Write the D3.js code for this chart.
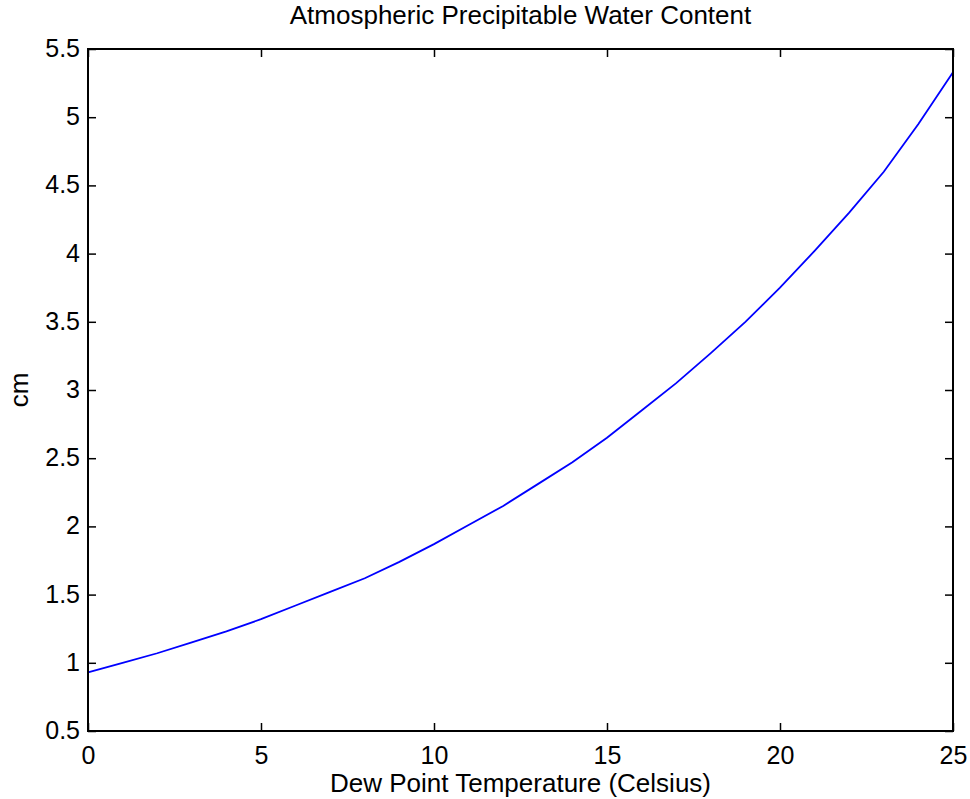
<!DOCTYPE html>
<html>
<head>
<meta charset="utf-8">
<script src="https://cdn.jsdelivr.net/npm/d3@7"></script>
<style>
	body { margin: 0; background: #fff; }
	text { font-family: "Liberation Sans", Arial, sans-serif; fill: #000; }
</style>
</head>
<body>
<div id="chart"></div>
<script>
// dew point (Celsius) vs precipitable water (cm)
const dewPoint = [0, 1, 2, 3, 4, 5, 6, 7, 8, 9, 10, 11, 12, 13, 14, 15, 16, 17, 18, 19, 20, 21, 22, 23, 24, 25];
const water = [0.93, 1.00, 1.07, 1.15, 1.23, 1.32, 1.42, 1.52, 1.62, 1.74, 1.87, 2.01, 2.15, 2.31, 2.47, 2.65,
	2.85, 3.05, 3.27, 3.50, 3.75, 4.02, 4.30, 4.60, 4.95, 5.33];
const xTicks = [0, 5, 10, 15, 20, 25];
const yTicks = [0.5, 1, 1.5, 2, 2.5, 3, 3.5, 4, 4.5, 5, 5.5];

const W = 970, H = 799;
const margin = { top: 49, right: 17, bottom: 68, left: 88 };
const iw = W - margin.left - margin.right;
const ih = H - margin.top - margin.bottom;
const FS = 25;   // tick labels
const LFS = 26;  // title / axis labels
const TICK = 8;

const svg = d3.select("#chart").append("svg")
	.attr("width", W)
	.attr("height", H);

const g = svg.append("g").attr("transform", `translate(${margin.left},${margin.top})`);

const x = d3.scaleLinear().domain([0, 25]).range([0, iw]);
const y = d3.scaleLinear().domain([0.5, 5.5]).range([ih, 0]);

// curve
const line = d3.line()
	.x((d, i) => x(dewPoint[i]))
	.y(d => y(d));

g.append("path")
	.datum(water)
	.attr("d", line)
	.attr("fill", "none")
	.attr("stroke", "#0000ff")
	.attr("stroke-width", 1.8);

// axes (ticks point inwards, mirrored on top / right)
function styleAxis(sel) {
	sel.select(".domain").remove();
	sel.selectAll(".tick line").attr("stroke", "#000").attr("stroke-width", 1.5);
	sel.selectAll(".tick text").style("font-size", FS + "px").attr("fill", "#000");
}

g.append("g")
	.attr("transform", `translate(0,${ih})`)
	.call(d3.axisBottom(x).tickValues(xTicks).tickSize(-TICK).tickPadding(15).tickFormat(d3.format("d")))
	.call(styleAxis)
	.selectAll(".tick text").attr("dy", "0.71em");

g.append("g")
	.call(d3.axisTop(x).tickValues(xTicks).tickSize(-TICK).tickFormat(""))
	.call(styleAxis);

g.append("g")
	.call(d3.axisLeft(y).tickValues(yTicks).tickSize(-TICK).tickPadding(8).tickFormat(d => d))
	.call(styleAxis)
	.selectAll(".tick text").attr("dy", "0.3em");

g.append("g")
	.attr("transform", `translate(${iw},0)`)
	.call(d3.axisRight(y).tickValues(yTicks).tickSize(-TICK).tickFormat(""))
	.call(styleAxis);

// box
g.append("rect")
	.attr("width", iw)
	.attr("height", ih)
	.attr("fill", "none")
	.attr("stroke", "#000")
	.attr("stroke-width", 2);

// labels
svg.append("text")
	.attr("x", margin.left + iw / 2)
	.attr("y", 24)
	.attr("text-anchor", "middle")
	.style("font-size", LFS + "px")
	.text("Atmospheric Precipitable Water Content");

svg.append("text")
	.attr("x", margin.left + iw / 2)
	.attr("y", 792)
	.attr("text-anchor", "middle")
	.style("font-size", LFS + "px")
	.text("Dew Point Temperature (Celsius)");

svg.append("text")
	.attr("transform", `translate(28,${margin.top + ih / 2}) rotate(-90)`)
	.attr("text-anchor", "middle")
	.style("font-size", LFS + "px")
	.text("cm");
</script>
</body>
</html>
